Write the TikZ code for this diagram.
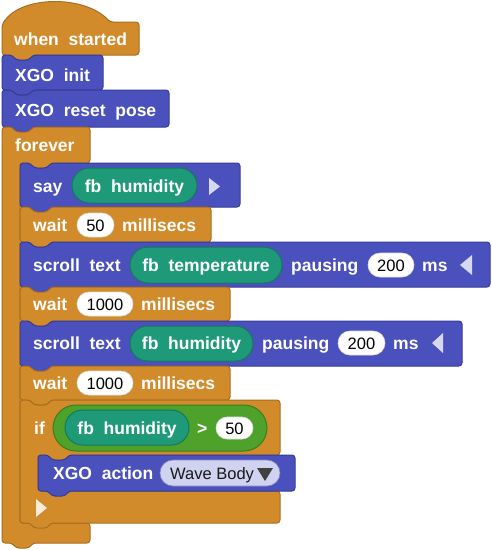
\documentclass[tikz,border=0pt]{standalone}
\usepackage{fontspec}
\setmainfont{Liberation Sans}
\newfontfamily\lbl[WordSpace=2.0]{Liberation Sans}
\definecolor{ctl}{HTML}{D28B2B}
\definecolor{ctlb}{HTML}{A86E20}
\definecolor{xgo}{HTML}{4A51BD}
\definecolor{xgob}{HTML}{363C96}
\definecolor{rep}{HTML}{1E9A78}
\definecolor{repb}{HTML}{15785C}
\definecolor{boo}{HTML}{4EA12B}
\definecolor{boob}{HTML}{3A7E1E}
\definecolor{lav}{HTML}{D6D8F2}
\definecolor{drop}{HTML}{D0D3EF}
\definecolor{cream}{HTML}{FBEBDC}
\tikzset{
  ctlblk/.style={fill=ctl, draw=ctlb, line width=1pt, rounded corners=3pt},
  xgoblk/.style={fill=xgo, draw=xgob, line width=1pt, rounded corners=3pt},
  lab/.style={font=\lbl\bfseries\fontsize{17.5}{20}\selectfont, text=white, inner sep=0pt, anchor=base west},
  labc/.style={lab, anchor=base},
  num/.style={font=\fontsize{16.5}{19}\selectfont, text=black, inner sep=0pt, anchor=base},
  whiteoval/.style={fill=white, draw=black!12, line width=0.6pt},
  repoval/.style={fill=rep, draw=repb, line width=1pt},
  booloval/.style={fill=boo, draw=boob, line width=1pt},
  dropoval/.style={fill=drop, draw=xgob!60, line width=0.6pt},
  arrowtri/.style={fill=lav, draw=none},
}
\newcommand\cmdblk[5]{\draw[#1] (#2,#3+8) -- (#2,#3) -- (#2+10,#3) -- (#2+14,#3+5) -- (#2+27,#3+5) -- (#2+31,#3) -- (#4,#3) -- (#4,#5) -- (#2+31,#5) -- (#2+27,#5+5) -- (#2+14,#5+5) -- (#2+10,#5) -- (#2,#5) -- cycle;}
\newcommand\pill[6]{\draw[#1, rounded corners=#6] (#2,#3) rectangle (#4,#5);}
\begin{document}
\begin{tikzpicture}[x=1pt, y=-1pt]
\useasboundingbox (0,0) rectangle (492,550);
% hat
\draw[ctlblk] (2,30) -- (2,25) .. controls (20,-5) and (85,-5) .. (110,22) -- (139,22) -- (139,55) -- (33,55) -- (29,60) -- (16,60) -- (12,55) -- (2,55) -- cycle;
\node[lab] (t1) at (14,45) {when started};
% XGO init
\cmdblk{xgoblk}{2}{55}{103}{90}
\node[lab] (t2) at (15,81) {XGO init};
% XGO reset pose
\cmdblk{xgoblk}{2}{90}{169}{127}
\node[lab] (t3) at (15,116) {XGO reset pose};
% forever
\draw[ctlblk] (2,140) -- (2,127) -- (12,127) -- (16,132) -- (29,132) -- (33,127) -- (90,127) -- (90,163) -- (51,163) -- (47,168) -- (34,168) -- (30,163) -- (20,163) -- (20,523) -- (90,523) -- (90,543) -- (33,543) -- (29,548) -- (16,548) -- (12,543) -- (2,543) -- cycle;
\node[lab] (t4) at (15,151) {forever};
% say
\cmdblk{xgoblk}{20}{163}{240}{207}
\node[lab] (s1) at (33,192) {say};
\pill{repoval}{72}{168}{197}{203}{17.5pt}
\node[labc] (s2) at (134.5,192) {fb humidity};
\fill[arrowtri] (209,178) -- (209,195) -- (220,186.5) -- cycle;
% wait 50
\cmdblk{ctlblk}{20}{207}{211}{242}
\node[lab] (w1) at (33,231) {wait};
\pill{whiteoval}{77}{213}{114}{237}{12pt}
\node[num] (w1n) at (95.5,231) {50};
\node[lab] (w1m) at (122,231) {millisecs};
% scroll text 1
\cmdblk{xgoblk}{20}{242}{490}{287}
\node[lab] (c1) at (33,271) {scroll text};
\pill{repoval}{130}{247}{282}{283}{18pt}
\node[labc] (c1r) at (206,271) {fb temperature};
\node[lab] (c1p) at (291,271) {pausing};
\pill{whiteoval}{368}{253}{414}{277}{12pt}
\node[num] (c1n) at (391,271) {200};
\node[lab] (c1m) at (422,271) {ms};
\fill[arrowtri] (472,255) -- (472,275) -- (460,265) -- cycle;
% wait 1000
\cmdblk{ctlblk}{20}{287}{230}{321}
\node[lab] (w2) at (33,310) {wait};
\pill{whiteoval}{77}{292}{133}{316}{12pt}
\node[num] (w2n) at (105,310) {1000};
\node[lab] (w2m) at (141,310) {millisecs};
% scroll text 2
\cmdblk{xgoblk}{20}{321}{462}{366}
\node[lab] (c2) at (33,349.5) {scroll text};
\pill{repoval}{130}{326}{253}{361}{17.5pt}
\node[labc] (c2r) at (191.5,349.5) {fb humidity};
\node[lab] (c2p) at (262,349.5) {pausing};
\pill{whiteoval}{338}{331}{385}{355}{12pt}
\node[num] (c2n) at (361.5,349.5) {200};
\node[lab] (c2m) at (393,349.5) {ms};
\fill[arrowtri] (443,333) -- (443,353) -- (432,343) -- cycle;
% wait 1000
\cmdblk{ctlblk}{20}{366}{230}{400}
\node[lab] (w3) at (33,389.5) {wait};
\pill{whiteoval}{77}{371}{133}{395}{12pt}
\node[num] (w3n) at (105,389.5) {1000};
\node[lab] (w3m) at (141,389.5) {millisecs};
% if
\draw[ctlblk] (20,410) -- (20,400) -- (30,400) -- (34,405) -- (47,405) -- (51,400) -- (280,400) -- (280,455) -- (69,455) -- (65,460) -- (52,460) -- (48,455) -- (38,455) -- (38,491) -- (280,491) -- (280,523) -- (51,523) -- (47,528) -- (34,528) -- (30,523) -- (20,523) -- cycle;
\node[lab] (i1) at (34,434) {if};
\pill{booloval}{53}{405}{267}{451}{23pt}
\pill{repoval}{65}{410}{189}{445}{17.5pt}
\node[labc] (i1r) at (127,434) {fb humidity};
\node[lab] (i1g) at (197,434) {>};
\pill{whiteoval}{216}{417}{253}{439}{11pt}
\node[num] (i1n) at (234.5,434) {50};
\fill[cream] (36,499) -- (36,517) -- (47,508) -- cycle;
% XGO action
\cmdblk{xgoblk}{38}{455}{295}{491}
\node[lab] (a1) at (53,479) {XGO action};
\pill{dropoval}{160}{460}{280}{486}{13pt}
\node[num, anchor=base west, text=black!90] (a1d) at (170,479) {Wave Body};
\fill[black!75] (257,468) -- (273,468) -- (265,481) -- cycle;
\end{tikzpicture}
\end{document}
